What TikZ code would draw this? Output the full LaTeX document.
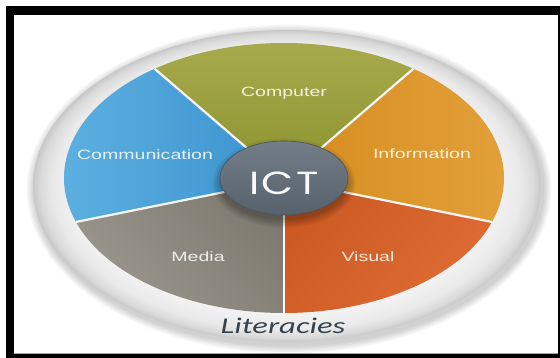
\documentclass[tikz,border=0pt]{standalone}
\usepackage{fontspec}
\setmainfont{Liberation Sans}
\newfontfamily\ictfont{Poppins}
\newfontfamily\litfont{Carlito}
\usetikzlibrary{calc}

% palette
\definecolor{rimhi}{HTML}{F4F4F4}
\definecolor{rimmid}{HTML}{EAEAEA}
\definecolor{rimlo}{HTML}{DADADA}
\definecolor{rimedge}{HTML}{C8C8C8}
\definecolor{blueOut}{HTML}{5FB1E2}
\definecolor{blueIn}{HTML}{3A93CD}
\definecolor{oliveOut}{HTML}{A9AC4E}
\definecolor{oliveIn}{HTML}{8C922F}
\definecolor{infoOut}{HTML}{E3A23C}
\definecolor{infoIn}{HTML}{D68C1E}
\definecolor{visOut}{HTML}{E06B35}
\definecolor{visIn}{HTML}{CB5A22}
\definecolor{mediaOut}{HTML}{9B978E}
\definecolor{mediaIn}{HTML}{7F7A70}
\definecolor{hubTop}{HTML}{737E88}
\definecolor{hubBot}{HTML}{56616B}
\definecolor{hubEdge}{HTML}{4A545D}
\definecolor{litText}{HTML}{36434F}

% plate rim: light centre, darker outer edge
\pgfdeclareradialshading{rimshading}{\pgfpoint{0bp}{0bp}}{%
  color(0bp)=(rimhi); color(20bp)=(rimhi); color(23bp)=(rimmid);
  color(24.3bp)=(rimlo); color(25bp)=(rimedge); color(50bp)=(rimedge)}

\tikzset{
  wedge/.style={draw=none},
  divider/.style={draw=white!94!gray, line width=2.2pt},
  lbl/.style={text=white, text opacity=0.85, inner sep=0pt,
              font=\fontsize{13.5}{15}\selectfont},
}

\begin{document}
\begin{tikzpicture}[x=1pt, y=-1pt]
  \useasboundingbox (0,0) rectangle (560,358);
  \fill[white] (0,0) rectangle (560,358);

  % picture frame
  \fill[black] (6,6) rectangle (560,358);
  \fill[white] (14,15) rectangle (558,354);
  \draw[gray!70, line width=0.8pt] (14,353.6) -- (558,353.6);

  % soft shadow under the plate
  \foreach \k in {1,...,6}
    \fill[black, opacity=0.03] (289,189) ellipse [x radius={254+\k*1.4}, y radius={156+\k*1.4}];

  % plate
  \shade[shading=rimshading] (287,186) ellipse [x radius=254, y radius=156];

  % pie geometry
  \coordinate (E) at (284,178);
  \coordinate (V) at (284,180);
  \path (E) ++(-126:220 and 135) coordinate (b1);
  \path (E) ++(-54:220 and 135)  coordinate (b2);
  \path (E) ++(19:220 and 135)   coordinate (b3);
  \path (E) ++(90:220 and 135)   coordinate (b4);
  \path (E) ++(161:220 and 135)  coordinate (b5);

  % wedges
  \shade[wedge, top color=oliveOut, bottom color=oliveIn, shading angle=0]
    (V) -- (b1) arc[start angle=-126, end angle=-54, x radius=220, y radius=135] -- cycle;
  \shade[wedge, top color=infoOut, bottom color=infoIn, shading angle=-90]
    (V) -- (b2) arc[start angle=-54, end angle=19, x radius=220, y radius=135] -- cycle;
  \shade[wedge, top color=visOut, bottom color=visIn, shading angle=-131]
    (V) -- (b3) arc[start angle=19, end angle=90, x radius=220, y radius=135] -- cycle;
  \shade[wedge, top color=mediaOut, bottom color=mediaIn, shading angle=131]
    (V) -- (b4) arc[start angle=90, end angle=161, x radius=220, y radius=135] -- cycle;
  \shade[wedge, top color=blueOut, bottom color=blueIn, shading angle=90]
    (V) -- (b5) arc[start angle=161, end angle=234, x radius=220, y radius=135] -- cycle;

  % white seams between wedges
  \foreach \b in {b1,b2,b3,b4,b5}
    \draw[divider] (V) -- (\b);

  % hub shadow and hub
  \foreach \k in {1,...,6}
    \fill[black, opacity=0.05] (284,183) ellipse [x radius={62+\k*1.6}, y radius={35+\k*1.6}];
  \shade[top color=hubTop, bottom color=hubBot, draw=hubEdge, line width=0.6pt]
    (284,178) ellipse [x radius=64, y radius=37];

  % labels
  \node[lbl] (computer) at (284,93)  {\scalebox{1.45}[1]{Computer}};
  \node[lbl] (comm)     at (145,155) {\scalebox{1.45}[1]{Communication}};
  \node[lbl] (info)     at (422,154) {\scalebox{1.45}[1]{Information}};
  \node[lbl] (media)    at (198,257) {\scalebox{1.45}[1]{Media}};
  \node[lbl] (visual)   at (368,257) {\scalebox{1.45}[1]{Visual}};

  \node[text=white!95!gray, inner sep=0pt, font=\ictfont\fontsize{32}{34}\selectfont]
    (ict) at (284,183) {\scalebox{1.3}[1]{\addfontfeature{LetterSpace=6}ICT}};

  \node[text=litText, inner sep=0pt, font=\litfont\itshape\fontsize{22.5}{24}\selectfont]
    (lit) at (283,326) {\scalebox{1.45}[1]{Literacies}};
\end{tikzpicture}
\end{document}
